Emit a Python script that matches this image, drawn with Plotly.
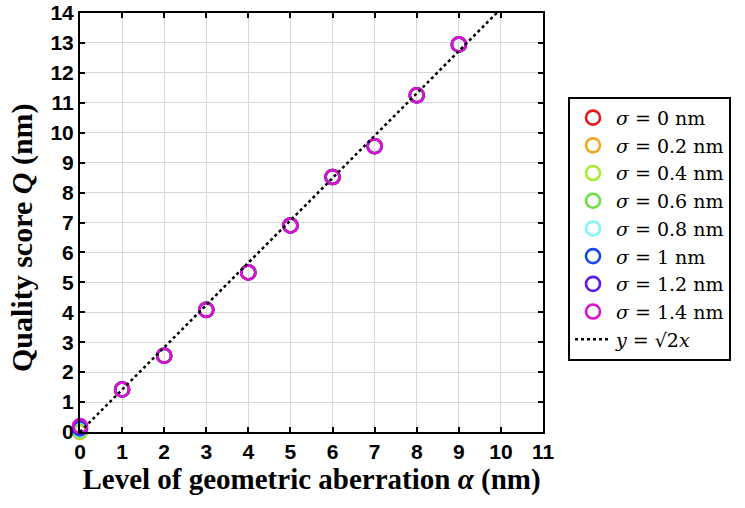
import plotly.graph_objects as go

alpha = [0, 1, 2, 3, 4, 5, 6, 7, 8, 9]
sigma_labels = ["0", "0.2", "0.4", "0.6", "0.8", "1", "1.2", "1.4"]
colors = ["#e8141c", "#f0a81c", "#a8ee30", "#6ee040", "#80f8f8", "#1848f0", "#6018e8", "#e010d0"]
q_zero = [-0.04, 0.0, 0.03, 0.06, 0.09, 0.12, 0.16, 0.2]
q_rest = [1.42, 2.55, 4.08, 5.33, 6.90, 8.52, 9.55, 11.25, 12.95]
ref_x = [0, 11]
ref_y = [0, 15.556]

sp = "\u00a0"
fig = go.Figure()
for lab, col, q0 in zip(sigma_labels, colors, q_zero):
    fig.add_trace(go.Scatter(
        x=alpha, y=[q0] + q_rest, mode="markers",
        marker=dict(symbol="circle-open", size=14, color=col, line=dict(width=2.6, color=col)),
        name=f"<i>σ</i>{sp}={sp}{lab} nm", cliponaxis=False,
    ))
fig.add_trace(go.Scatter(
    x=ref_x, y=ref_y, mode="lines",
    line=dict(color="black", width=2.5, dash="dot"),
    name=f"<i>y</i>{sp}={sp}√2<i>x</i>",
))

axis_common = dict(
    showgrid=True, gridcolor="#d8d8d8", gridwidth=1,
    showline=True, linecolor="black", linewidth=2, mirror="ticks",
    ticks="inside", ticklen=5, tickwidth=2, tickcolor="black",
    zeroline=False, dtick=1, automargin=False, ticklabeloverflow="allow",
    tickfont=dict(family="Liberation Sans", size=21, color="black", weight="bold"),
)
fig.update_xaxes(range=[0, 11], **axis_common,
                 title=dict(text="Level of geometric aberration <i>α</i> (nm)",
                            font=dict(family="Liberation Serif", size=29, color="black", weight="bold"),
                            standoff=0))
fig.update_yaxes(range=[0, 14], **axis_common)
fig.add_annotation(
    text="Quality score <i>Q</i> (nm)", textangle=-90,
    xref="paper", yref="paper", x=0, y=0.463, xanchor="center", yanchor="middle",
    xshift=-58, showarrow=False,
    font=dict(family="Liberation Serif", size=30, color="black", weight="bold"),
)
fig.update_layout(
    width=745, height=508,
    margin=dict(l=80, r=202, t=13, b=76),
    plot_bgcolor="white", paper_bgcolor="white",
    legend=dict(x=1.054, y=0.80, xanchor="left", yanchor="top",
                bordercolor="black", borderwidth=2, bgcolor="white",
                font=dict(family="DejaVu Serif", size=19, color="black"),
                tracegroupgap=0, itemwidth=36),
)
fig.write_html("out.html", post_script="document.body.style.margin='0';",
               config={"displayModeBar": False})
